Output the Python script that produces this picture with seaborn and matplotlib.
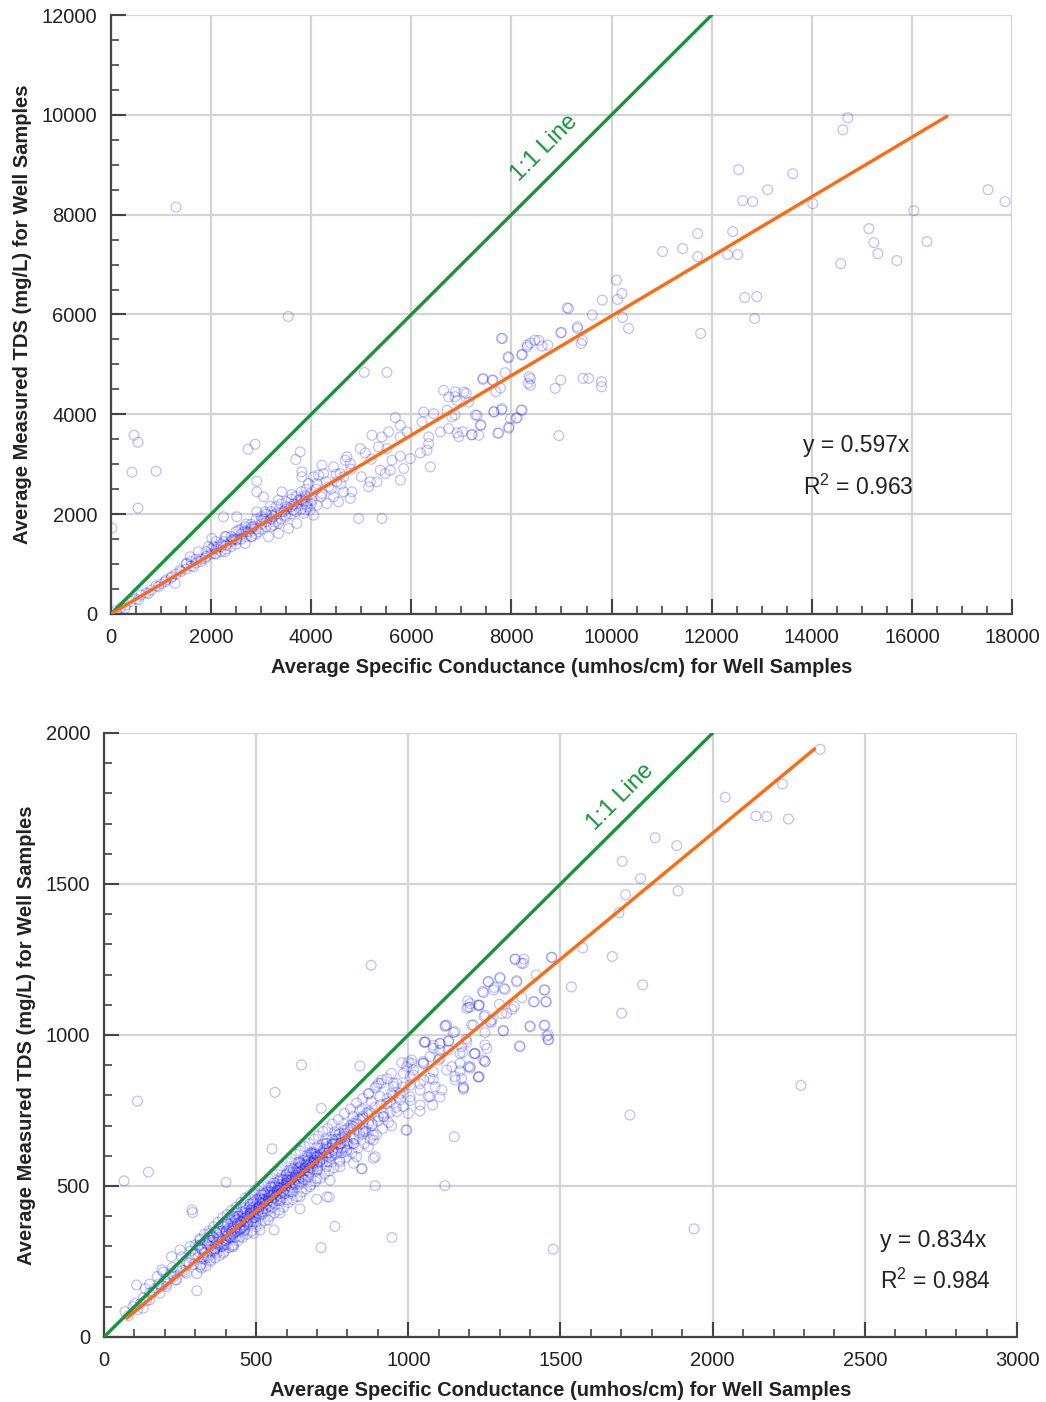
import matplotlib
matplotlib.use("Agg")
import matplotlib.pyplot as plt
import seaborn as sns
import numpy as np
import pandas as pd
from matplotlib.ticker import MultipleLocator

# ---------------- DATA: top panel (all wells) ----------------
top_low = [(20, 1720), (460, 3580), (540, 3440), (420, 2840), (900, 2860), (540, 2120),
           (1300, 8150), (2740, 3300), (2880, 3400), (3540, 5960), (5060, 4840), (7820, 5520)]
top_line = [(100, 60), (200, 130), (300, 180), (400, 250), (500, 300), (600, 380), (700, 420),
            (800, 480), (900, 560), (1000, 600), (1100, 680), (1200, 720), (1300, 800),
            (1400, 850), (1500, 900), (1600, 960), (1700, 1020), (1800, 1100), (1900, 1150),
            (2000, 1200), (2100, 1300), (2200, 1350), (2300, 1380), (2400, 1450), (2500, 1500),
            (2600, 1600), (2700, 1650), (2800, 1700), (2900, 1700), (3000, 1800), (3100, 1850),
            (3200, 1900), (3300, 2000), (3400, 2050), (3500, 2100), (3600, 2150), (3700, 2200),
            (3800, 2300), (3900, 2350), (4000, 2400), (2200, 1250), (2400, 1350), (2600, 1500),
            (2800, 1550), (3000, 1700), (3200, 1750), (3400, 1900), (3600, 2000), (3800, 2100),
            (4000, 2200), (2100, 1450), (2300, 1550), (2500, 1650), (2700, 1800), (2900, 1900),
            (3100, 2000), (3300, 2150), (3500, 2250), (3700, 2350), (3900, 2500)]
top_band = [(1500, 1000), (1600, 1050), (1700, 1100), (1800, 1050), (1900, 1250), (2000, 1300),
            (2100, 1200), (2200, 1400), (2300, 1300), (2400, 1550), (2500, 1400), (2600, 1700),
            (2700, 1550), (2800, 1800), (2900, 1600), (3000, 1950), (3100, 1750), (3200, 2050),
            (3300, 1850), (3400, 2200), (3500, 1950), (3600, 2300), (3700, 2050), (3800, 2450),
            (3900, 2200), (4100, 2500), (4200, 2350), (4300, 2650), (4400, 2500), (4500, 2800),
            (4600, 2600), (4800, 2900), (5000, 2750), (5200, 3100), (2050, 1350), (2250, 1450),
            (2450, 1500), (2650, 1650), (2850, 1750), (3050, 1900), (3250, 1950), (3450, 2050),
            (3650, 2200), (3850, 2250)]
top_cloud = [(3780, 3247), (3693, 3093), (3813, 2847), (3813, 2747), (2913, 2660), (4147, 2780),
             (3947, 2613), (2913, 2447), (3047, 2347), (3413, 2447), (3613, 2393), (3347, 2280),
             (3180, 2160), (3513, 2147), (3747, 2280), (4013, 2280), (2913, 2047), (3080, 2047),
             (3880, 2080), (4047, 1980), (2247, 1947), (2513, 1947), (2680, 1747), (2813, 1747),
             (2547, 1680), (2947, 1647), (3147, 1547), (3347, 1613), (3547, 1713), (3713, 1813),
             (3347, 1813), (2280, 1547), (2147, 1347), (2413, 1480), (2013, 1513), (1947, 1347),
             (1747, 1247), (1580, 1147), (2080, 1213), (2280, 1247), (1513, 1013), (1647, 947),
             (1880, 1113), (1380, 880), (1213, 747), (1080, 647), (947, 547), (1280, 613),
             (747, 413), (547, 280), (280, 113), (2513, 1480), (2680, 1413), (2813, 1547),
             (3247, 1780), (3480, 1980), (3213, 1980), (3647, 2080), (3880, 2380), (3013, 1880),
             (2747, 1647)]
top_mid = [(5513, 4840), (8547, 5480), (8380, 5427), (8313, 5347), (8613, 5367), (7947, 5133),
           (8213, 5200), (7433, 4700), (7633, 4680), (7780, 4527), (8380, 4713), (8380, 4580),
           (6647, 4480), (6880, 4447), (7047, 4447), (6747, 4347), (6913, 4280), (7147, 4247),
           (7813, 4113), (7647, 4047), (8213, 4080), (6713, 4080), (6247, 4047), (6447, 4013),
           (7313, 3980), (6813, 3947), (7980, 3913), (8113, 3933), (5680, 3933), (6213, 3847),
           (7380, 3780), (7947, 3747), (6747, 3713), (5780, 3780), (5547, 3647), (6580, 3647),
           (6913, 3627), (7213, 3593), (7347, 3580), (7747, 3627), (5213, 3580), (5413, 3547),
           (5780, 3547), (5913, 3647), (6347, 3547), (6347, 3413), (6313, 3280), (6180, 3227),
           (6380, 2947), (5980, 3113), (5347, 3347), (4980, 3313), (5080, 3227), (5513, 3313),
           (5780, 3160), (5613, 3080), (5847, 2913), (5380, 2880), (5480, 2813), (5580, 2880),
           (5780, 2680), (5180, 2647), (5313, 2647), (5147, 2547), (4713, 3147), (4780, 3013),
           (4680, 3080), (4447, 2947), (4580, 2813), (4647, 2747), (4513, 2647), (4213, 2980),
           (4047, 2747), (4247, 2813), (4347, 2547), (4113, 2613), (4213, 2413), (4447, 2347),
           (4647, 2447), (4813, 2447), (4780, 2313), (4547, 2247), (4313, 2213), (4947, 1913),
           (5413, 1913), (4113, 2180), (3913, 2147), (3847, 2013), (3980, 2080), (3813, 2280)]
top_high = [(8948, 3573), (7726, 3620), (7948, 3720), (7393, 3787), (7022, 3653), (7207, 3587),
            (6948, 3553), (6874, 3987), (7281, 3987), (7652, 4053), (7800, 4087), (8193, 4087),
            (8096, 3920), (9800, 4653), (9800, 4553), (9430, 4720), (9541, 4720), (8874, 4520),
            (8985, 4687), (8355, 4753), (8333, 4620), (7874, 4833), (7430, 4720), (7615, 4687),
            (7689, 4453), (7096, 4420), (6874, 4353), (7800, 5520), (7933, 5153), (8207, 5187),
            (8319, 5387), (8467, 5487), (8726, 5387), (8985, 5633), (9111, 6133), (9319, 5753),
            (9393, 5420), (9615, 5987), (9815, 6287), (10096, 6687), (10207, 6420), (10220, 5940),
            (10340, 5720), (10120, 6300), (9140, 6120), (9320, 5720), (9000, 5640), (9420, 5480)]
top_far = [(12540, 8900), (13620, 8820), (13120, 8500), (12620, 8280), (12820, 8260),
           (14620, 9700), (14720, 9940), (17520, 8500), (17860, 8260), (16040, 8080),
           (16300, 7460), (15140, 7720), (15240, 7440), (15320, 7220), (15700, 7080),
           (14580, 7020), (12420, 7660), (12320, 7200), (12520, 7200), (11720, 7620),
           (11720, 7160), (11420, 7320), (11020, 7260), (12660, 6340), (12900, 6360),
           (12860, 5920), (11780, 5620), (14020, 8220)]

# ---------------- DATA: bottom panel ----------------
bot_outliers = [(110, 781), (66, 517), (146, 546), (401, 512), (289, 421), (291, 412), (305, 153),
                (649, 901), (562, 810), (841, 897), (714, 757), (552, 623), (891, 501), (1120, 501),
                (1151, 663), (992, 685), (946, 329), (713, 296), (759, 366), (644, 424), (740, 463),
                (699, 456), (559, 354), (878, 1231), (1939, 358), (1476, 291), (1728, 735),
                (2290, 833)]
bot_low = [(80, 70), (95, 100), (110, 90), (120, 110), (130, 130), (140, 120), (150, 145), (160, 150),
           (170, 160), (180, 175), (190, 170), (200, 190), (210, 195), (220, 210), (230, 200),
           (240, 225), (250, 230), (260, 220), (270, 250), (280, 245), (290, 260), (300, 275),
           (310, 265), (320, 290), (330, 280), (340, 305), (175, 200), (195, 215), (225, 230),
           (255, 265), (285, 285), (315, 305), (345, 330), (150, 175), (135, 160), (205, 175),
           (235, 190), (265, 215), (295, 240), (325, 265), (102, 111), (107, 172), (69, 84),
           (190, 222), (222, 266), (250, 288), (283, 299), (316, 321), (348, 343), (129, 95),
           (151, 123), (184, 145), (206, 167), (239, 189), (272, 211), (316, 233), (348, 255)]
bot_core = [(350, 300), (355, 320), (362, 285), (370, 310), (378, 330), (385, 300), (390, 345),
            (398, 320), (405, 335), (410, 360), (415, 330), (420, 350), (425, 375), (430, 345),
            (435, 365), (440, 390), (445, 355), (450, 380), (455, 400), (460, 370), (465, 395),
            (470, 410), (475, 380), (480, 405), (485, 425), (490, 395), (495, 415), (500, 440),
            (505, 410), (510, 430), (515, 455), (520, 425), (525, 445), (530, 470), (535, 440),
            (540, 460), (545, 480), (550, 450), (555, 470), (560, 495), (565, 465), (570, 485),
            (575, 505), (580, 475), (585, 495), (590, 520), (595, 490), (600, 510), (605, 530),
            (610, 500), (615, 520), (620, 545), (625, 510), (630, 530), (635, 555), (640, 525),
            (645, 545), (650, 570), (655, 540), (660, 560), (665, 580), (670, 550), (675, 570),
            (680, 595), (685, 565), (690, 585), (695, 605), (700, 575), (710, 595), (720, 610),
            (730, 600), (740, 625), (750, 615), (760, 640),
            (360, 330), (372, 295), (388, 315), (402, 350), (418, 340), (432, 385), (448, 370),
            (462, 410), (478, 395), (492, 430), (508, 420), (522, 455), (538, 450), (552, 480),
            (568, 470), (582, 505), (598, 500), (612, 530), (628, 520), (642, 560), (658, 550),
            (672, 585), (688, 575), (702, 600), (718, 590), (732, 630), (748, 600), (762, 655),
            (778, 640), (792, 665),
            (365, 290), (380, 325), (395, 305), (408, 340), (422, 330), (438, 375), (452, 360),
            (468, 385), (482, 420), (498, 405), (512, 445), (528, 435), (542, 470), (558, 460),
            (572, 495), (588, 480), (602, 520), (618, 505), (632, 545), (648, 530), (662, 570),
            (678, 560), (692, 595), (708, 580), (722, 620), (738, 610), (752, 640), (768, 625),
            (782, 660), (798, 650),
            (400, 380), (420, 300), (440, 410), (460, 350), (480, 440), (500, 380), (520, 470),
            (540, 420), (560, 510), (580, 450), (600, 540), (620, 480), (640, 580), (660, 520),
            (680, 610), (700, 550), (720, 640), (740, 580), (760, 670), (780, 610), (800, 690),
            (820, 640), (840, 720), (860, 680), (880, 740),
            (392, 277), (425, 299), (447, 332), (491, 343), (513, 354), (540, 387), (578, 410),
            (600, 454), (644, 465), (677, 498), (699, 525), (732, 564), (775, 586), (797, 614),
            (819, 641), (830, 597), (403, 354), (436, 387), (480, 410), (524, 454), (556, 476),
            (600, 520), (644, 564), (688, 608), (732, 641), (775, 674), (819, 696)]
bot_core2 = [(322, 290), (328, 258), (334, 310), (340, 270), (346, 320), (352, 285), (358, 330),
             (364, 292), (370, 345), (376, 305), (382, 350), (388, 300), (394, 365), (400, 320),
             (406, 375), (412, 330), (418, 385), (424, 340), (430, 395), (436, 350), (442, 400),
             (448, 355), (454, 415), (460, 365), (466, 420), (472, 375), (478, 430), (484, 385),
             (490, 445), (496, 395), (502, 455), (508, 400), (514, 460), (520, 415), (526, 475),
             (532, 425), (538, 480), (544, 435), (550, 495), (556, 445), (562, 500), (568, 455),
             (574, 515), (580, 465), (586, 520), (592, 475), (598, 535), (604, 485), (610, 545),
             (616, 495), (622, 555), (628, 505), (634, 560), (640, 515), (646, 575), (652, 525),
             (658, 585), (664, 535), (670, 595), (676, 545), (682, 605), (688, 555), (694, 610),
             (700, 565), (710, 625), (720, 580), (730, 640), (740, 595), (750, 655), (760, 610),
             (770, 670), (780, 625), (790, 685), (800, 640), (810, 700), (820, 660), (830, 715),
             (840, 675), (850, 730), (860, 690), (870, 745), (880, 700), (890, 760), (900, 715),
             (910, 770), (920, 730), (930, 790), (940, 745), (950, 800), (960, 760),
             (400, 345), (420, 360), (440, 375), (460, 392), (480, 410), (500, 425), (520, 442),
             (540, 460), (560, 476), (580, 494), (600, 510), (620, 528), (640, 545), (660, 560),
             (680, 578), (700, 596), (450, 383), (470, 400), (490, 418), (510, 434), (530, 452),
             (550, 468), (570, 485), (590, 502), (610, 518), (630, 536), (650, 552), (670, 570),
             (690, 586), (710, 604), (730, 620), (750, 638), (770, 655), (790, 672), (810, 690),
             (830, 706), (850, 722)]
bot_core3 = [(300, 305), (305, 210), (315, 325), (320, 228), (330, 340), (335, 235), (345, 350),
             (350, 250), (360, 365), (365, 262), (375, 380), (380, 270), (390, 395), (395, 283),
             (405, 405), (410, 295), (420, 420), (425, 305), (435, 430), (440, 318), (450, 445),
             (455, 330), (465, 460), (470, 340), (480, 470), (485, 350), (495, 485), (500, 365),
             (510, 500), (515, 375), (525, 510), (530, 385), (540, 525), (545, 400), (555, 540),
             (560, 410), (570, 550), (575, 420), (585, 565), (590, 430), (600, 580), (605, 445),
             (615, 590), (620, 455), (630, 605), (635, 465), (645, 615), (650, 480), (660, 630),
             (665, 490), (675, 640), (680, 505), (690, 655), (695, 515), (705, 665), (710, 525),
             (720, 680), (725, 540), (735, 690), (740, 550), (750, 705), (755, 560), (770, 720),
             (775, 580), (790, 740), (795, 595), (810, 755), (815, 610), (830, 775), (835, 625),
             (850, 790), (855, 640), (870, 805), (875, 655), (890, 825), (895, 670), (910, 840),
             (915, 690), (930, 855), (935, 710),
             (310, 300), (318, 240), (338, 318), (342, 262), (368, 345), (372, 280), (398, 370),
             (402, 305), (428, 398), (432, 330), (458, 425), (462, 355), (488, 450), (492, 382),
             (518, 475), (522, 408), (548, 500), (552, 430), (578, 525), (582, 455), (608, 552),
             (612, 480), (638, 578), (642, 505), (668, 602), (672, 530), (698, 628), (702, 555),
             (728, 655), (732, 580), (758, 680), (762, 605), (788, 705), (792, 630), (818, 730),
             (822, 655), (848, 755), (852, 680), (878, 780), (882, 705)]
bot_mid = [(847, 556), (885, 592), (945, 699), (1038, 748), (1080, 768), (1104, 794), (1181, 820),
           (1230, 860), (1126, 1033), (1233, 1099), (1203, 1092), (1274, 1050), (1252, 1008),
           (1148, 1008), (1055, 976), (1104, 972), (1132, 981), (1175, 961), (1219, 939),
           (1252, 912), (1197, 895), (1170, 881), (1126, 884), (1082, 853), (1049, 912),
           (1011, 906), (978, 908), (1006, 862), (1038, 838), (967, 796), (1006, 783), (945, 873),
           (913, 851), (896, 831), (940, 779), (984, 763), (918, 741), (869, 707), (852, 674),
           (885, 652), (863, 741), (907, 796), (951, 840), (995, 895),
           (1367, 961), (1455, 996), (1460, 985), (1400, 1027), (1449, 1033), (1312, 1014),
           (1121, 1029), (1208, 1033), (1192, 1088), (1203, 1104), (1263, 1176), (1301, 1187),
           (1351, 1250), (1378, 1237), (1471, 1257), (1280, 1149), (1318, 1151), (1247, 1140),
           (1449, 1149), (1411, 1110), (1453, 1110), (1373, 1124), (1356, 1176), (1340, 1085),
           (1307, 1071), (1269, 1044), (1252, 1066), (1230, 1099), (1192, 977), (1258, 955),
           (1247, 917), (1216, 937), (1170, 939), (1203, 895), (1175, 856), (1233, 862),
           (1143, 895), (1154, 851), (1181, 828), (1082, 966), (1104, 950), (1132, 950),
           (1099, 917), (1071, 928), (1050, 906), (1055, 977), (1011, 917), (1082, 878),
           (1050, 851), (1017, 867), (1088, 828), (1071, 795), (1039, 817), (1006, 795),
           (984, 828), (962, 840), (973, 785), (1000, 740), (1039, 768), (962, 746), (945, 806),
           (929, 773), (902, 840), (869, 806), (902, 729), (841, 751), (820, 707), (852, 685),
           (885, 668), (995, 685), (809, 663), (776, 641), (754, 619), (798, 619), (847, 558),
           (820, 575), (776, 564), (743, 519), (732, 464), (891, 597), (869, 630), (918, 729)]
bot_high = [(2353, 1946), (2229, 1831), (2041, 1787), (2142, 1725), (2178, 1723), (2249, 1715),
            (1811, 1653), (1882, 1627), (1703, 1575), (1763, 1518), (1714, 1464), (1886, 1477),
            (1692, 1405), (1573, 1288), (1670, 1260), (1770, 1166), (1536, 1159), (1701, 1072),
            (1471, 1257), (1351, 1252), (1380, 1251), (1371, 1237), (1420, 1199), (1446, 1149),
            (1452, 1110), (1414, 1110), (1301, 1191), (1263, 1177), (1244, 1144), (1282, 1157),
            (1314, 1154), (1356, 1180), (1348, 1094), (1323, 1072), (1299, 1102), (1232, 1097),
            (1197, 1092), (1195, 1113), (1249, 1061), (1272, 1041), (1312, 1014), (1400, 1030),
            (1446, 1031), (1460, 1000), (1460, 983), (1365, 964), (1121, 1031), (1214, 1033),
            (1153, 1011), (1190, 986), (1252, 967), (1052, 976), (1104, 972), (1082, 956),
            (1132, 978), (1179, 942), (1219, 939), (1252, 912), (1203, 890), (1170, 906),
            (1153, 862), (1181, 824), (1230, 862), (1104, 923), (1000, 910), (1049, 906),
            (984, 873), (1017, 884), (1071, 857), (1110, 818), (1066, 796), (1006, 834),
            (951, 829), (973, 807)]

# Fit results
top_slope, top_r2, top_fit_range = 0.597, 0.963, [0, 16700]
bot_slope, bot_r2, bot_fit_range = 0.834, 0.984, [75, 2335]
top_limits = (18000, 12000)
bot_limits = (3000, 2000)

# ---------------- STYLE ----------------
sns.set_theme(style="white")
plt.rcParams['font.family'] = ['Liberation Sans', 'DejaVu Sans']
plt.rcParams['mathtext.fontset'] = 'custom'
plt.rcParams['mathtext.rm'] = 'Liberation Sans'
plt.rcParams['mathtext.it'] = 'Liberation Sans:italic'
plt.rcParams['mathtext.bf'] = 'Liberation Sans:bold'

GREEN = "#15943a"
ORANGE = "#ff6a10"
PT_COLOR = (0.1, 0.1, 1.0, 0.28)


def to_df(*groups):
    pts = [p for g in groups for p in g]
    return pd.DataFrame(pts, columns=["sc", "tds"])


fig = plt.figure(figsize=(10.46, 14.02), dpi=100)
ax1 = fig.add_axes([0.1061, 0.5621, 0.8614, 0.4272])
ax2 = fig.add_axes([0.0994, 0.0464, 0.8729, 0.4308])


def style_axis(ax, xmax, ymax, xmaj, ymaj, xmin, ymin):
    ax.set_xlim(0, xmax)
    ax.set_ylim(0, ymax)
    ax.xaxis.set_major_locator(MultipleLocator(xmaj))
    ax.yaxis.set_major_locator(MultipleLocator(ymaj))
    ax.xaxis.set_minor_locator(MultipleLocator(xmin))
    ax.yaxis.set_minor_locator(MultipleLocator(ymin))
    ax.grid(True, which="major", color="#d4d4d4", linewidth=1.6, zorder=0)
    ax.set_axisbelow(True)
    for s in ["top", "right"]:
        ax.spines[s].set_visible(False)
    for s in ["left", "bottom"]:
        ax.spines[s].set_color("#444444")
        ax.spines[s].set_linewidth(1.6)
    ax.tick_params(which="major", direction="in", length=11, width=1.5, color="#444444",
                   labelsize=14.5, labelcolor="#222222", pad=10)
    ax.tick_params(which="minor", direction="in", length=6, width=1.2, color="#444444")
    ax.tick_params(axis="x", which="both", top=False, bottom=True)
    ax.tick_params(axis="y", which="both", left=True, right=False)
    ax.set_xlabel("Average Specific Conductance (umhos/cm) for Well Samples",
                  fontsize=14.5, fontweight="bold", color="#222222", labelpad=8)
    ax.set_ylabel("Average Measured TDS (mg/L) for Well Samples",
                  fontsize=14.5, fontweight="bold", color="#222222", labelpad=7)


def draw(ax, df, slope, r2, fit_range, lim, eq_xy, lab_xy):
    sns.scatterplot(data=df, x="sc", y="tds", ax=ax, marker="o", s=50,
                    facecolors="none", edgecolor=PT_COLOR, linewidth=0.9, zorder=2)
    one = pd.DataFrame({"x": [0, min(lim)], "y": [0, min(lim)]})
    sns.lineplot(data=one, x="x", y="y", ax=ax, color=GREEN, linewidth=2.4, zorder=3)
    fx = np.array(fit_range, dtype=float)
    fit = pd.DataFrame({"x": fx, "y": slope * fx})
    sns.lineplot(data=fit, x="x", y="y", ax=ax, color=ORANGE, linewidth=2.4, zorder=4)
    ax.text(lab_xy[0], lab_xy[1], "1:1 Line", rotation=45, rotation_mode="anchor",
            ha="center", va="center", color=GREEN, fontsize=17)
    ax.text(eq_xy[0], eq_xy[1], f"y = {slope:.3f}x", fontsize=16.5, color="#222222",
            ha="left", va="center")
    ax.text(eq_xy[0], eq_xy[1] - eq_xy[2], f"R$^2$ = {r2:.3f}", fontsize=16.5,
            color="#222222", ha="left", va="center")


df_top = to_df(top_low, top_line, top_band, top_cloud, top_mid, top_high, top_far)
df_bot = to_df(bot_outliers, bot_low, bot_core, bot_core2, bot_core3, bot_mid, bot_high)

draw(ax1, df_top, top_slope, top_r2, top_fit_range, top_limits,
     (13830, 3365, 820), (8670, 9335))
style_axis(ax1, 18000, 12000, 2000, 2000, 500, 500)

draw(ax2, df_bot, bot_slope, bot_r2, bot_fit_range, bot_limits,
     (2550, 321, 136), (1696, 1788))
style_axis(ax2, 3000, 2000, 500, 500, 100, 100)

for ax in (ax1, ax2):
    for lab in ax.get_xticklabels() + ax.get_yticklabels():
        lab.set_fontfamily(['Liberation Sans', 'DejaVu Sans'])

fig.savefig("out.png", dpi=100)
